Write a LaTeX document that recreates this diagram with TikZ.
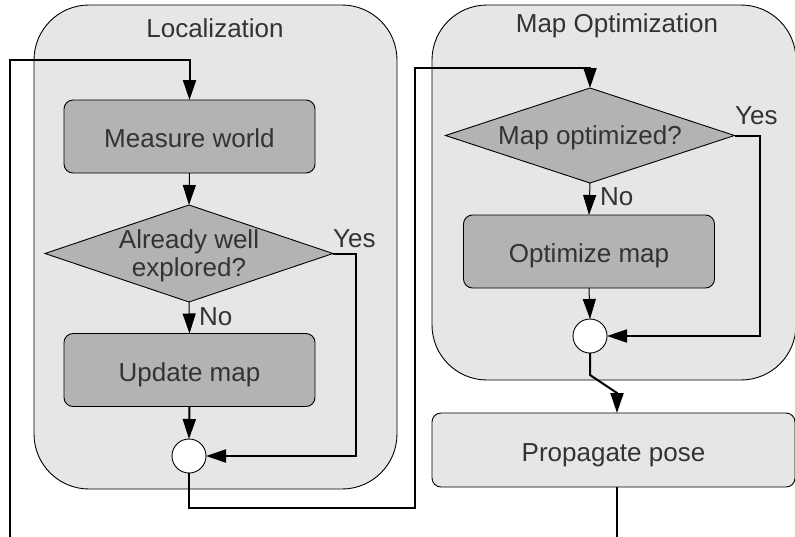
\documentclass[tikz,border=0pt]{standalone}
\usepackage{fontspec}
\setmainfont{Liberation Sans}
\usetikzlibrary{shapes.geometric,arrows.meta,calc}
\definecolor{txtgray}{HTML}{333333}
\definecolor{lightfill}{HTML}{E6E6E6}
\definecolor{darkfill}{HTML}{B3B3B3}
\begin{document}
\begin{tikzpicture}[x=1pt,y=-1pt,
  every node/.style={font=\fontsize{26}{28}\selectfont, text=txtgray},
  container/.style={draw=black, line width=0.9pt, fill=lightfill, rounded corners=55pt},
  procbox/.style={draw=black, line width=0.9pt, fill=darkfill, rounded corners=9pt, minimum width=251pt, minimum height=73pt, inner sep=0pt, outer sep=0pt, text height=22pt, text depth=0pt},
  lightbox/.style={draw=black, line width=0.9pt, fill=lightfill, rounded corners=9pt, minimum width=363pt, minimum height=74pt, inner sep=0pt, outer sep=0pt, text height=22pt, text depth=0pt},
  decision/.style={diamond, draw=black, line width=0.9pt, fill=darkfill, inner sep=0pt, outer sep=0pt},
  merge/.style={circle, draw=black, line width=0.9pt, fill=white, minimum size=34pt, inner sep=0pt, outer sep=0pt},
  label/.style={inner sep=0pt, align=center},
  thinflow/.style={line width=1pt, -{Triangle[length=20pt,width=13pt]}},
  thickflow/.style={line width=2pt, -{Triangle[length=20pt,width=13pt]}},
  thickline/.style={line width=2pt}
]
\useasboundingbox (0,0) rectangle (795,536);

% containers
\path[container] (34,5) rectangle (397,489);
\path[container] (432,5) rectangle (796,380);
\node[label] (loctitle) at (215,28) {Localization};
\node[label] (maptitle) at (617,26) {Map Optimization};

% localization nodes
\node[procbox] (mw) at (189.5,136.5) {Measure world};
\node[decision, minimum width=288pt, minimum height=97pt] (d1) at (189,253.5) {};
\node[label] (d1txt) at (189,256) {Already well\\explored?};
\node[procbox] (um) at (189.5,370) {Update map};
\node[merge] (c1) at (189,456) {};

% map optimization nodes
\node[decision, minimum width=289pt, minimum height=95pt] (d2) at (590,135.5) {};
\node[label] (d2txt) at (590,138) {Map optimized?};
\node[procbox] (om) at (589,251.5) {Optimize map};
\node[merge] (c2) at (590,336) {};

\node[lightbox] (pp) at (613.5,450) {Propagate pose};

% labels
\node[label, anchor=west] (yes1) at (333,239) {Yes};
\node[label, anchor=west] (no1) at (199,317) {No};
\node[label, anchor=west] (yes2) at (735,116) {Yes};
\node[label, anchor=west] (no2) at (600,197) {No};

% connectors
\coordinate (loopin) at (10,540);
\coordinate (loopout) at (617,540);
\coordinate (j1) at (415,508);

\draw[thickflow] (loopin) |- ([yshift=40pt]mw.north) -- (mw.north);
\draw[thinflow] (mw.south) -- (d1.north);
\draw[thinflow] (d1.south) -- (um.north);
\draw[thickflow] (um.south) -- (c1.north);
\draw[thickflow] (d1.east) -- ++(23,0) |- (c1.east);
\draw[thickflow] (c1.south) |- (j1) |- ([yshift=20pt]d2.north) -- (d2.north);

\draw[thinflow] (d2.south) -- (om.north);
\draw[thinflow] (om.south) -- (c2.north);
\draw[thickflow] (d2.east) -- ++(25,0) |- (c2.east);
\draw[thickflow] (c2.south) -- ++(0,22) -- ([yshift=20pt]pp.north -| loopout) -- (pp.north -| loopout);
\draw[thickline] (pp.south -| loopout) -- (loopout);
\end{tikzpicture}
\end{document}
